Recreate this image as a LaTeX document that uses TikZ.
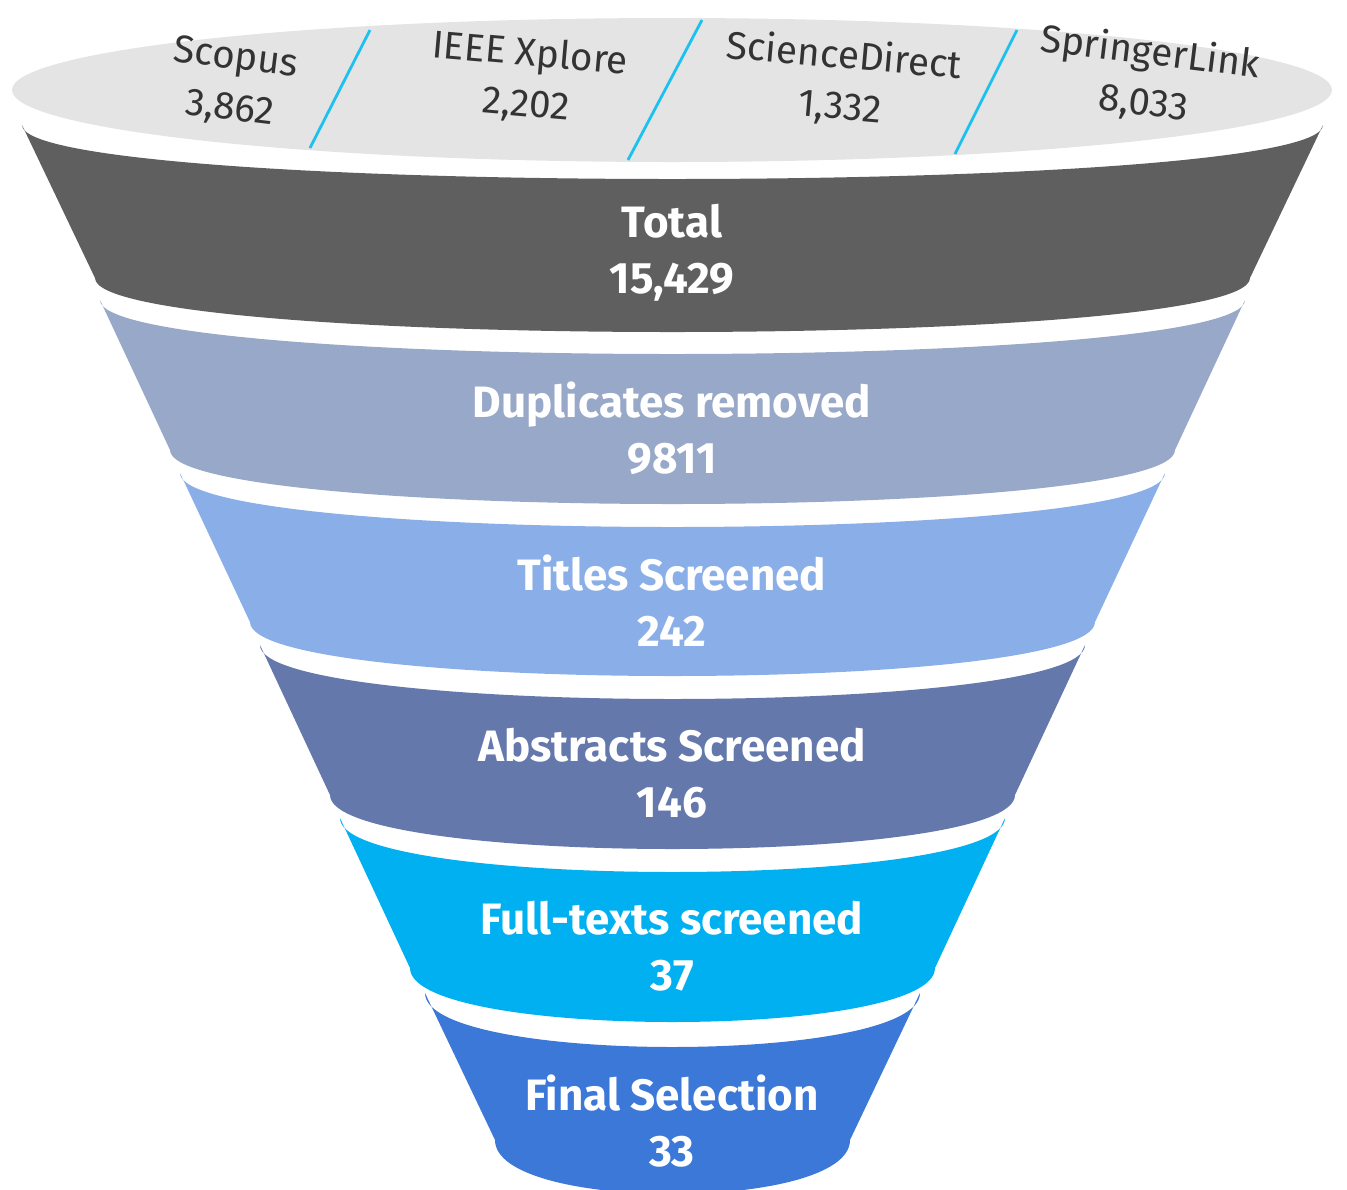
\documentclass[tikz,border=0pt]{standalone}
\usepackage{fontspec}
\setmainfont{Fira Sans}
\usetikzlibrary{positioning}
\definecolor{topgray}{HTML}{E4E4E4}
\definecolor{bandA}{HTML}{5F5F5F}
\definecolor{bandB}{HTML}{98A8C8}
\definecolor{bandC}{HTML}{8AAEE8}
\definecolor{bandD}{HTML}{6478AC}
\definecolor{bandE}{HTML}{00B0F0}
\definecolor{bandF}{HTML}{3C78D8}
\definecolor{sepcyan}{HTML}{1EC0F0}
\tikzset{
  source/.style={text=black!80,font=\fontsize{11}{14.5}\selectfont,align=center},
  stage/.style={text=white,font=\bfseries\fontsize{12.5}{16}\selectfont,align=center},
  sep/.style={sepcyan,line width=0.8pt}
}
\begin{document}
\begin{tikzpicture}[x=0.01cm,y=-0.01cm]
  \useasboundingbox (0,0) rectangle (1347,1190);
  % top opening
  \fill[topgray] (672,90) ellipse (660 and 72);
  \draw[sep] (310,148) -- (370,30);
  \draw[sep] (628,160) -- (702,20);
  \draw[sep] (955,154) -- (1017,30);
  \node[source,rotate=-7] (scopus) at (233,84) {Scopus\\3,862};
  \node[source,rotate=-5] (ieee) at (528,80) {IEEE Xplore\\2,202};
  \node[source,rotate=-5] (sciencedirect) at (842,82) {ScienceDirect\\1,332};
  \node[source,rotate=-7] (springer) at (1147,78) {SpringerLink\\8,033};
  % funnel bands
  \foreach \xt/\yt/\xb/\yb/\col/\lab/\nm in {
      22/125/95/278/bandA/Total\\15{,}429/total,
      100/300/170/450/bandB/Duplicates removed\\9811/dup,
      180/473/250/622/bandC/Titles Screened\\242/titles,
      260/645/330/795/bandD/Abstracts Screened\\146/abstracts,
      340/818/410/968/bandE/Full-texts screened\\37/fulltext,
      425/993/495/1140/bandF/Final Selection\\33/final}{
    \fill[\col] (\xt,\yt) .. controls (\xt,\yt+72) and (1345-\xt,\yt+72) .. (1345-\xt,\yt)
      -- (1345-\xb,\yb) .. controls (1345-\xb,\yb+72) and (\xb,\yb+72) .. (\xb,\yb) -- cycle;
    \node[stage] (\nm) at (672,\yt+128) {\lab};
  }
\end{tikzpicture}
\end{document}
